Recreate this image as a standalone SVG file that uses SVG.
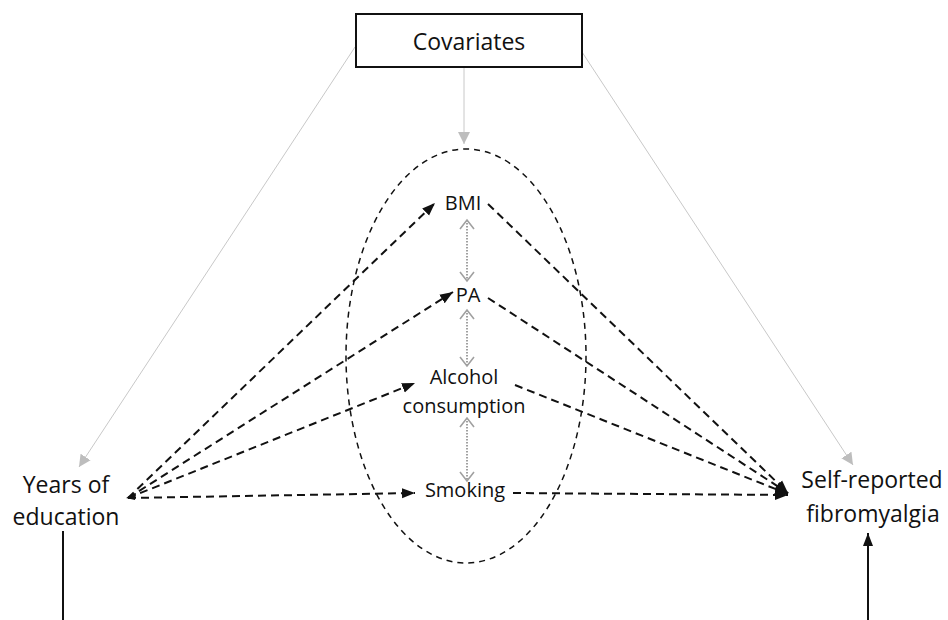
<svg xmlns="http://www.w3.org/2000/svg" width="948" height="620" viewBox="0 0 948 620">
<defs>
<style>
text{font-family:"Open Sans","Noto Sans","Liberation Sans",sans-serif;fill:#111;text-anchor:middle}
.big{font-size:23px}
.mid{font-size:20px}
.dash{stroke:#111;stroke-width:2;stroke-dasharray:8 5;fill:none}
.gray{stroke:#c8c8c8;stroke-width:1;fill:none}
.dot{stroke:#a0a0a0;stroke-width:2;stroke-dasharray:1.5 1.5;fill:none}
.solid{stroke:#111;stroke-width:2;fill:none}
</style>
<marker id="ab" markerUnits="userSpaceOnUse" markerWidth="14" markerHeight="12" refX="13" refY="5" orient="auto" viewBox="0 0 14 10">
<path d="M0,0 L13,5 L0,10 Z" fill="#111" stroke="none"/>
</marker>
<marker id="ag" markerUnits="userSpaceOnUse" markerWidth="13" markerHeight="13" refX="12" refY="6" orient="auto" viewBox="0 0 13 12">
<path d="M0,0 L12,6 L0,12 Z" fill="#bdbdbd" stroke="none"/>
</marker>
<marker id="av" markerUnits="userSpaceOnUse" markerWidth="12" markerHeight="16" refX="10" refY="8" orient="auto-start-reverse" viewBox="0 0 12 16">
<path d="M1,1 L10,8 L1,15" fill="none" stroke="#a0a0a0" stroke-width="1.6"/>
</marker>
</defs>
<g id="connectors">
<line class="gray" x1="355" y1="47" x2="79" y2="467" marker-end="url(#ag)"/>
<line class="gray" x1="582" y1="52" x2="853" y2="465" marker-end="url(#ag)"/>
<line class="gray" x1="464" y1="67" x2="464" y2="144" marker-end="url(#ag)"/>
<line class="dash" x1="128" y1="498" x2="435" y2="203" marker-end="url(#ab)"/>
<line class="dash" x1="128" y1="498" x2="453" y2="292" marker-end="url(#ab)"/>
<line class="dash" x1="128" y1="498" x2="415" y2="383" marker-end="url(#ab)"/>
<line class="dash" x1="128" y1="498" x2="415" y2="493" marker-end="url(#ab)"/>
<polygon points="126,498 136,493 135,500" fill="#111"/>
<line class="dash" x1="488" y1="204" x2="788" y2="493" marker-end="url(#ab)"/>
<line class="dash" x1="488" y1="298" x2="788" y2="493" marker-end="url(#ab)"/>
<line class="dash" x1="515" y1="385" x2="788" y2="494" marker-end="url(#ab)"/>
<line class="dash" x1="513" y1="493" x2="788" y2="495" marker-end="url(#ab)"/>
<line class="dot" x1="467" y1="220" x2="467" y2="281" marker-start="url(#av)" marker-end="url(#av)"/>
<line class="dot" x1="467" y1="310" x2="467" y2="366" marker-start="url(#av)" marker-end="url(#av)"/>
<line class="dot" x1="467" y1="418" x2="467" y2="481" marker-start="url(#av)" marker-end="url(#av)"/>
<line class="solid" x1="63" y1="531" x2="63" y2="620"/>
<line class="solid" x1="868" y1="620" x2="868" y2="533" marker-end="url(#ab)"/>
</g>
<g id="mediators-ellipse">
<ellipse cx="466" cy="356" rx="120" ry="207" fill="none" stroke="#111" stroke-width="1.5" stroke-dasharray="6 5"/>
</g>
<g id="covariates">
<rect x="356" y="14" width="226" height="53" fill="#fff" stroke="#111" stroke-width="2"/>
<text class="big" x="469" y="50">Covariates</text>
</g>
<g id="years">
<text class="big" x="66" y="493">Years of</text>
<text class="big" x="66" y="525">education</text>
</g>
<g id="fibro">
<text class="big" x="872" y="488">Self-reported</text>
<text class="big" x="873" y="522">fibromyalgia</text>
</g>
<g id="bmi"><text class="mid" x="463" y="210">BMI</text></g>
<g id="pa"><text class="mid" x="468" y="302">PA</text></g>
<g id="alcohol">
<text class="mid" x="464" y="384">Alcohol</text>
<text class="mid" x="464" y="413">consumption</text>
</g>
<g id="smoking"><text class="mid" x="465" y="497">Smoking</text></g>
</svg>
